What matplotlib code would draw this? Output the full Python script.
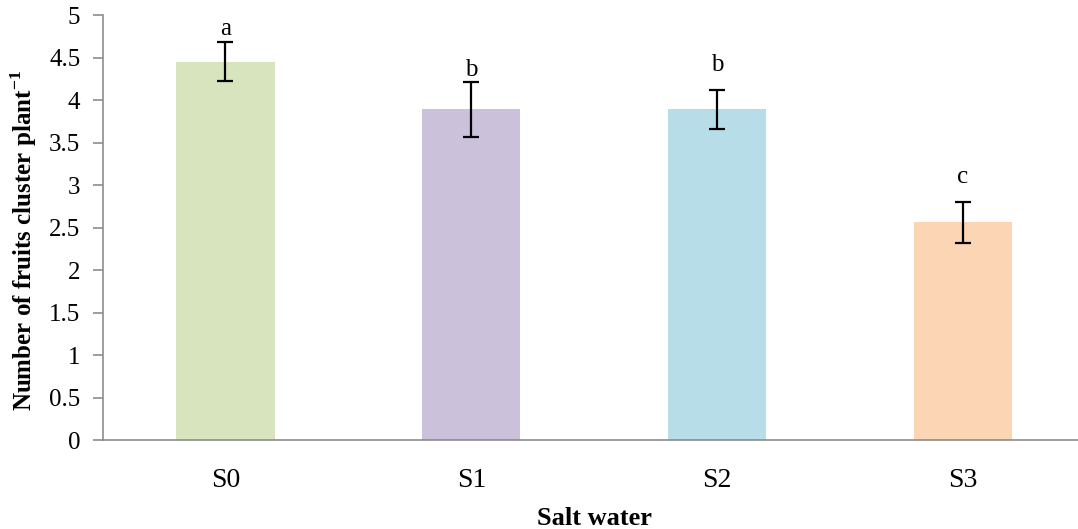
import numpy as np
import matplotlib
matplotlib.use("Agg")
import matplotlib.pyplot as plt

# datos
treatments = ["S0", "S1", "S2", "S3"]
fruits = [4.45, 3.89, 3.89, 2.56]
err = [0.23, 0.32, 0.23, 0.24]
letters = ["a", "b", "b", "c"]
letter_y = [4.84, 4.35, 4.41, 3.09]
colors = ["#D7E4BD", "#CCC1DA", "#B7DEE8", "#FCD5B5"]

plt.rcParams['font.family'] = ['Liberation Serif', 'DejaVu Serif']
plt.rcParams['mathtext.fontset'] = 'custom'
plt.rcParams['mathtext.rm'] = 'Liberation Serif'
plt.rcParams['mathtext.bf'] = 'Liberation Serif:bold'

fig = plt.figure(figsize=(10.78, 5.29), dpi=100)
ax = fig.add_axes([0.0951, 0.168, 0.9123, 0.8036])

x = np.arange(len(treatments))
ax.bar(x, fruits, width=0.40, color=colors, zorder=2)
ax.errorbar(x, fruits, yerr=err, fmt='none', ecolor='black',
            elinewidth=1.6, capsize=6, capthick=1.6, zorder=3)
for xi, lab, ly in zip(x, letters, letter_y):
    ax.text(xi, ly, lab, ha='center', va='center', fontsize=18)

ax.set_xlim(-0.5, 3.5)
ax.set_ylim(0, 5)
ax.set_yticks(np.arange(0, 5.01, 0.5))
ax.set_yticklabels(["0", "0.5", "1", "1.5", "2", "2.5", "3", "3.5", "4", "4.5", "5"])
ax.set_xticks(x)
ax.set_xticklabels(treatments)

for s in ['top', 'right']:
    ax.spines[s].set_visible(False)
for s in ['left', 'bottom']:
    ax.spines[s].set_color('#8c8c8c')
    ax.spines[s].set_linewidth(1.2)

ax.tick_params(axis='y', length=7, color='#8c8c8c', width=1.2, labelsize=18, pad=9)
ax.tick_params(axis='x', length=0, labelsize=20, pad=20)

ax.set_ylabel("Number of fruits cluster plant$^{\\mathbf{-1}}$", fontsize=18,
              fontweight='bold')
ax.yaxis.set_label_coords(-0.065, 0.47)
ax.set_xlabel("Salt water", fontsize=19, fontweight='bold', labelpad=10)

plt.savefig("out.png", dpi=100)
